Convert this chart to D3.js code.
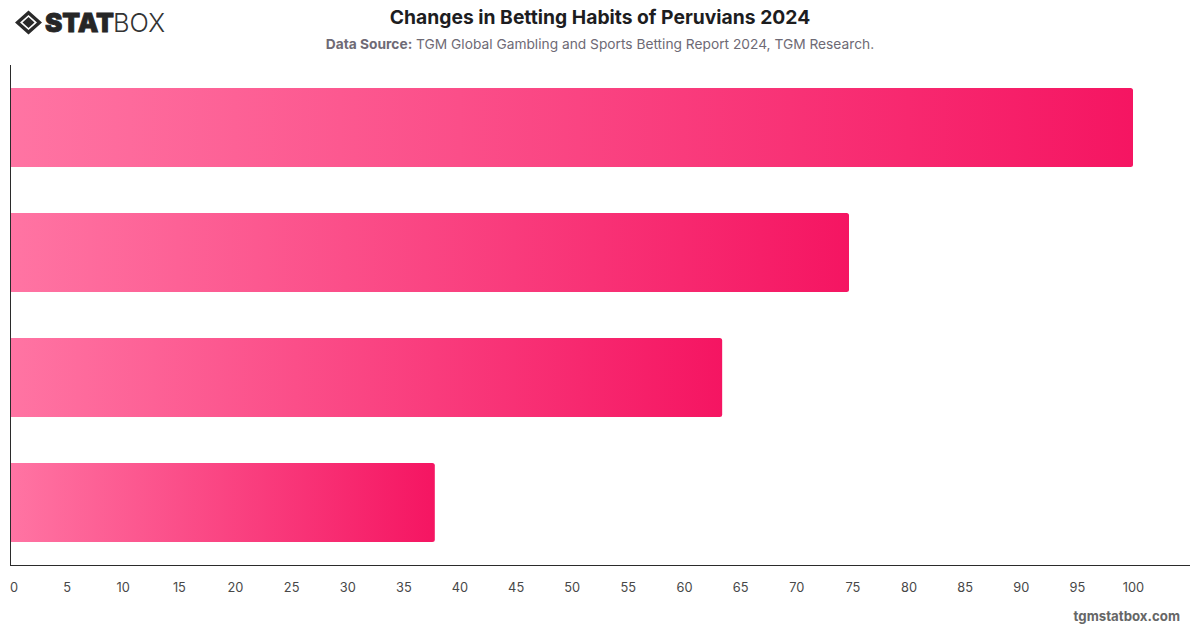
<!DOCTYPE html>
<html>
<head>
<meta charset="utf-8">
<script src="https://cdn.jsdelivr.net/npm/d3@7/dist/d3.min.js"></script>
<style>
  html, body { margin: 0; padding: 0; background: #fff; }
  svg { display: block; font-family: Inter, "Noto Sans", sans-serif; }
</style>
</head>
<body>
<svg id="chart" width="1200" height="628"></svg>
<script>
const categories = ["A", "B", "C", "D"];
const values = [100, 74.7, 63.4, 37.8];
const tickValues = d3.range(0, 101, 5);
const titleText = "Changes in Betting Habits of Peruvians 2024";
const sourceLabel = "Data Source:";
const sourceText = " TGM Global Gambling and Sports Betting Report 2024, TGM Research.";
const siteText = "tgmstatbox.com";

const svg = d3.select("#chart");

const x = d3.scaleLinear().domain([0, 100]).range([10.5, 1133]);
const y = d3.scaleBand().domain(categories).range([65, 565]).paddingInner(0.3672).paddingOuter(0.1836);

// One left-to-right gradient per bar, spanning that bar's own width
const defs = svg.append("defs");
categories.forEach((c, i) => {
  const g = defs.append("linearGradient").attr("id", "barFill" + i)
    .attr("x1", "0%").attr("x2", "100%").attr("y1", "0%").attr("y2", "0%");
  g.append("stop").attr("offset", "0%").attr("stop-color", "#ff74a3");
  g.append("stop").attr("offset", "100%").attr("stop-color", "#f51562");
});

// Bars: square on the axis side, slightly rounded at the value end
svg.append("g").selectAll("path").data(values).join("path")
  .attr("fill", (d, i) => `url(#barFill${i})`)
  .attr("d", (d, i) => {
    const x0 = x(0), x1 = x(d), y0 = y(categories[i]), y1 = y0 + y.bandwidth(), r = 2.5;
    return `M${x0},${y0}H${x1 - r}Q${x1},${y0} ${x1},${y0 + r}V${y1 - r}Q${x1},${y1} ${x1 - r},${y1}H${x0}Z`;
  });

// Axis lines
svg.append("line").attr("x1", 10.5).attr("x2", 10.5).attr("y1", 65).attr("y2", 565.5)
  .attr("stroke", "#2b2b2b").attr("stroke-width", 1);
svg.append("line").attr("x1", 10).attr("x2", 1190).attr("y1", 565.5).attr("y2", 565.5)
  .attr("stroke", "#2b2b2b").attr("stroke-width", 1);

// Tick labels, the first pushed inward from the axis
const xAxis = d3.axisBottom(x).tickValues(tickValues).tickSize(0).tickPadding(0);
const axisG = svg.append("g").attr("transform", "translate(0,582)").call(xAxis);
axisG.select(".domain").remove();
axisG.selectAll("text")
  .attr("dy", "0.36em")
  .attr("font-family", "Inter, sans-serif").attr("font-size", 12.8).attr("fill", "#484848")
  .attr("dx", d => d === 0 ? 3 : 0)
  .attr("y", 5.5);

// Title block
svg.append("text").attr("x", 600).attr("y", 23.5).attr("text-anchor", "middle")
  .attr("font-size", 19.3).attr("font-weight", 700).attr("fill", "#1d1d1f").text(titleText);
const sub = svg.append("text").attr("x", 600).attr("y", 49).attr("text-anchor", "middle")
  .attr("font-size", 13.75).attr("fill", "#6e6a75").attr("xml:space", "preserve");
sub.append("tspan").attr("font-weight", 700).text(sourceLabel);
sub.append("tspan").text(sourceText);

// Footer site name
svg.append("text").attr("x", 1180).attr("y", 621).attr("text-anchor", "end")
  .attr("font-size", 13.25).attr("font-weight", 700).attr("fill", "#666").text(siteText);

// Brand mark: nested diamonds with the wordmark beside them
const logo = svg.append("g");
logo.append("path").attr("fill-rule", "evenodd").attr("fill", "#2a2a2a")
  .attr("d", "M28.5,10.5L42,22.5L28.5,34.5L15,22.5ZM28.5,15L20,22.5L28.5,30L37,22.5Z");
logo.append("path").attr("fill", "#2a2a2a").attr("d", "M28.5,17L34.5,22.5L28.5,28L22.5,22.5Z");
logo.append("text").attr("x", 45).attr("y", 32).attr("font-size", 26).attr("font-weight", 900)
  .attr("font-family", "Inter, sans-serif").attr("fill", "#262626")
  .attr("stroke", "#262626").attr("stroke-width", 0.8)
  .attr("textLength", 69).attr("lengthAdjust", "spacingAndGlyphs").text("STAT");
logo.append("text").attr("x", 113).attr("y", 32).attr("font-size", 26).attr("font-weight", 300)
  .attr("font-family", "Inter, sans-serif").attr("fill", "#333")
  .attr("textLength", 52).attr("lengthAdjust", "spacingAndGlyphs").text("BOX");
</script>
</body>
</html>
